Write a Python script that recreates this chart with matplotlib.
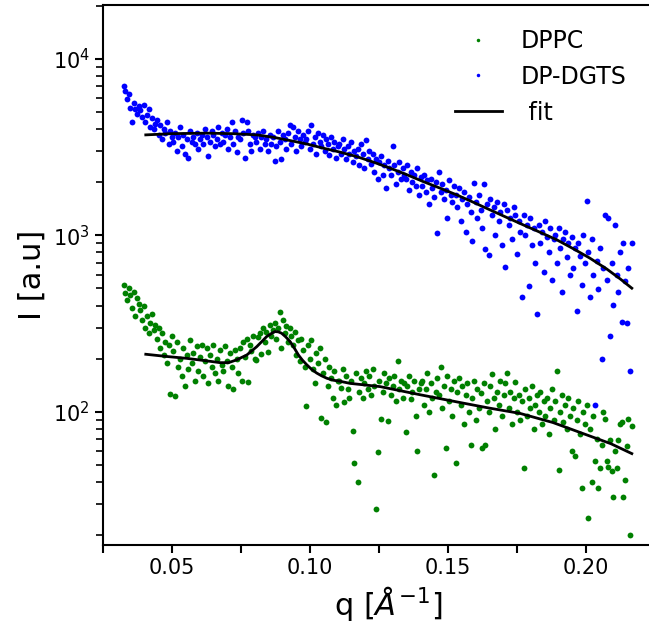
import numpy as np
import matplotlib
matplotlib.use("Agg")
import matplotlib.pyplot as plt

# measured intensities, DP-DGTS (blue), q from 0.0325 to 0.2165
dgts_I = [
    7000, 6600, 5900, 6300, 5300, 4400, 5600, 5200, 4900, 5400,
    5100, 4700, 5500, 4400, 4800, 5200, 4100, 4600, 4000, 4300,
    4500, 3700, 4200, 3500, 4000, 3800, 4400, 3300, 3900, 3600,
    3400, 3800, 3000, 3600, 4100, 3200, 3700, 2900, 3500, 2750,
    3900, 3400, 3600, 3300, 3800, 3100, 3500, 3700, 3300, 4000,
    3600, 2800, 3400, 3900, 3700, 3200, 3500, 4100, 3300, 3800,
    3400, 3700, 4000, 3100, 3600, 4400, 3300, 3900, 2950, 3600,
    3500, 4500, 3800, 2750, 4400, 3900, 3300, 3000, 3700, 3600,
    3400, 3800, 3100, 3600, 3900, 3300, 3500, 3000, 3700, 3300,
    3600, 2650, 3200, 3900, 3400, 2700, 3700, 3500, 3100, 3800,
    4200, 3300, 4100, 3600, 3000, 3900, 3500, 3200, 3700, 3400,
    3500, 3900, 3100, 4200, 3300, 3600, 2900, 3800, 3400, 3200,
    3700, 3000, 3500, 3300, 2850, 3600, 3100, 3400, 2750, 3200,
    3300, 2900, 3500, 3100, 2700, 3200, 2900, 3400, 2600, 3000,
    2800, 3100, 2500, 3300, 2900, 2400, 3450, 2700, 3000, 2550,
    2900, 2300, 2700, 2100, 2600, 2800, 2200, 2500, 1850, 2650,
    2400, 2200, 3200, 2500, 1950, 2300, 2600, 2100, 2400, 2200,
    2100, 2500, 1800, 2300, 2000, 2200, 1900, 2400, 1700, 2150,
    1900, 2200, 1750, 2050, 1500, 2100, 1850, 1650, 2000, 1030,
    2300, 1750, 1950, 1600, 1800, 1250, 2050, 1700, 1550, 1900,
    1700, 1450, 1850, 1200, 1600, 1750, 1050, 1500, 1650, 1350,
    930, 1990, 1550, 1250, 1700, 1400, 1100, 1960, 840, 1500,
    770, 1600, 1300, 1450, 1000, 1550, 1200, 1350, 880, 1500,
    660, 1400, 1150, 1250, 950, 1450, 1300, 780, 1200, 1050,
    450, 1300, 1000, 1150, 517, 1250, 880, 1100, 700, 357,
    1150, 900, 1050, 620, 1200, 980, 800, 1100, 560, 950,
    1000, 700, 1100, 850, 480, 950, 1050, 750, 900, 600,
    980, 650, 850, 373, 900, 760, 520, 1000, 700, 1570,
    800, 450, 950, 600, 109, 720, 495, 850, 198, 650,
    1300, 560, 1250, 270, 700, 405, 1150, 600, 480, 800,
    321, 900, 550, 318, 650, 170, 900,
]

# measured intensities, DPPC (green)
dppc_I = [
    520, 470, 430, 500, 460, 390, 480, 350, 440, 410,
    380, 330, 400, 300, 350, 280, 320, 360, 290, 310,
    260, 300, 230, 280, 210, 250, 190, 240, 126, 270,
    220, 123, 250, 180, 200, 160, 230, 140, 210, 175,
    255, 190, 215, 150, 235, 170, 205, 240, 160, 195,
    230, 145, 210, 180, 240, 165, 200, 150, 225, 185,
    170, 235, 195, 140, 215, 180, 135, 225, 200, 165,
    230, 150, 250, 205, 260, 147, 240, 220, 270, 200,
    197, 265, 280, 214, 300, 250, 285, 219, 310, 270,
    290, 320, 260, 300, 370, 230, 330, 280, 305, 250,
    300, 270, 240, 285, 210, 255, 195, 260, 225, 180,
    108, 240, 200, 255, 175, 145, 215, 190, 230, 92,
    165, 200, 88, 140, 180, 155, 120, 170, 110, 150,
    149, 136, 175, 114, 160, 134, 120, 150, 78, 51,
    165, 40, 130, 155, 120, 145, 170, 135, 160, 125,
    175, 140, 28, 59, 150, 91, 130, 165, 145, 89,
    155, 125, 140, 160, 115, 193, 135, 150, 120, 145,
    77, 140, 160, 118, 130, 150, 95, 60, 135, 145,
    150, 110, 135, 165, 100, 145, 120, 44, 130, 155,
    125, 179, 105, 140, 62, 160, 115, 135, 95, 150,
    51, 130, 155, 110, 140, 85, 125, 145, 100, 65,
    120, 150, 90, 135, 105, 128, 62, 145, 65, 115,
    100, 140, 164, 120, 80, 130, 110, 150, 95, 125,
    145, 167, 105, 130, 85, 120, 147, 100, 125, 90,
    115, 48, 135, 95, 120, 105, 140, 80, 110, 125,
    100, 130, 85, 115, 95, 120, 75, 105, 135, 90,
    115, 171, 47, 100, 125, 88, 110, 80, 120, 95,
    60, 105, 56, 90, 115, 75, 37, 100, 85, 110,
    25, 80, 40, 95, 53, 70, 37, 48, 65, 100,
    91, 53, 49, 69, 46, 33, 60, 48, 69, 85,
    88, 33, 41, 64, 91, 20, 83,
]

# measurement q grid
q = np.linspace(0.0325, 0.2165, len(dgts_I))

# fit curves
fit_q_dgts = [0.0405, 0.0500, 0.0626, 0.0720, 0.0807, 0.0870, 0.0928, 0.0990,
              0.1048, 0.1110, 0.1169, 0.1230, 0.1290, 0.1350, 0.1410, 0.1470,
              0.1532, 0.1592, 0.1652, 0.1712, 0.1773, 0.1833, 0.1894, 0.1954,
              0.2014, 0.2075, 0.2125, 0.2166]
fit_I_dgts = [3710, 3770, 3795, 3770, 3710, 3590, 3445, 3290,
              3120, 2960, 2795, 2600, 2404, 2210, 2018, 1855,
              1695, 1540, 1395, 1265, 1146, 1042, 944, 840,
              743, 645, 565, 502]
fit_q_dppc = [0.0405, 0.0480, 0.0553, 0.0620, 0.0674, 0.0705, 0.0734, 0.0771,
              0.0807, 0.0843, 0.0860, 0.0873, 0.0885, 0.0897, 0.0912, 0.0928,
              0.0943, 0.0958, 0.0973, 0.0988, 0.1006, 0.1024, 0.1042, 0.1061,
              0.1085, 0.1109, 0.1145, 0.1254, 0.1399, 0.1543, 0.1650, 0.1761,
              0.1880, 0.2003, 0.2090, 0.2166]
fit_I_dppc = [212, 206, 201, 195, 190, 190, 197, 210,
              234, 267, 278, 285, 284, 279, 266, 250,
              230, 210, 196, 185, 174, 166, 160, 155,
              151, 149, 145, 139, 125, 113, 105, 98,
              87, 74, 66, 58]

fig = plt.figure(figsize=(6.49, 6.30), dpi=100)
ax = fig.add_axes([103 / 649, 85 / 630, 570 / 649, 540 / 630])

ax.plot(q, dppc_I, 'o', color='green', ms=4.2, mew=0, label='DPPC')
ax.plot(q, dgts_I, 'o', color='blue', ms=4.2, mew=0, label='DP-DGTS')
ax.plot(fit_q_dppc, fit_I_dppc, color='black', lw=2, label=' fit')
ax.plot(fit_q_dgts, fit_I_dgts, color='black', lw=2)

ax.set_yscale('log')
ax.set_xlim(0.025, 0.025 + 570 / 2760)
ax.set_ylim(17.6, 20200)

ticks = np.arange(0.025, 0.22, 0.025)
ax.set_xticks(ticks)
ax.set_xticklabels(['%.2f' % t if round(t / 0.025) % 2 == 0 else '' for t in ticks])

ax.tick_params(axis='both', which='major', labelsize=15, length=6, width=1.5)
ax.tick_params(axis='y', which='minor', length=5, width=1.2)
for s in ax.spines.values():
    s.set_linewidth(1.5)

ax.set_xlabel(r'q [$\AA^{-1}$]', fontsize=22)
ax.set_ylabel('I [a.u]', fontsize=22)

ax.legend(loc='upper left', bbox_to_anchor=(0.58, 0.995), frameon=False,
          fontsize=17, markerscale=0.6)

fig.savefig('out.png', dpi=100)
